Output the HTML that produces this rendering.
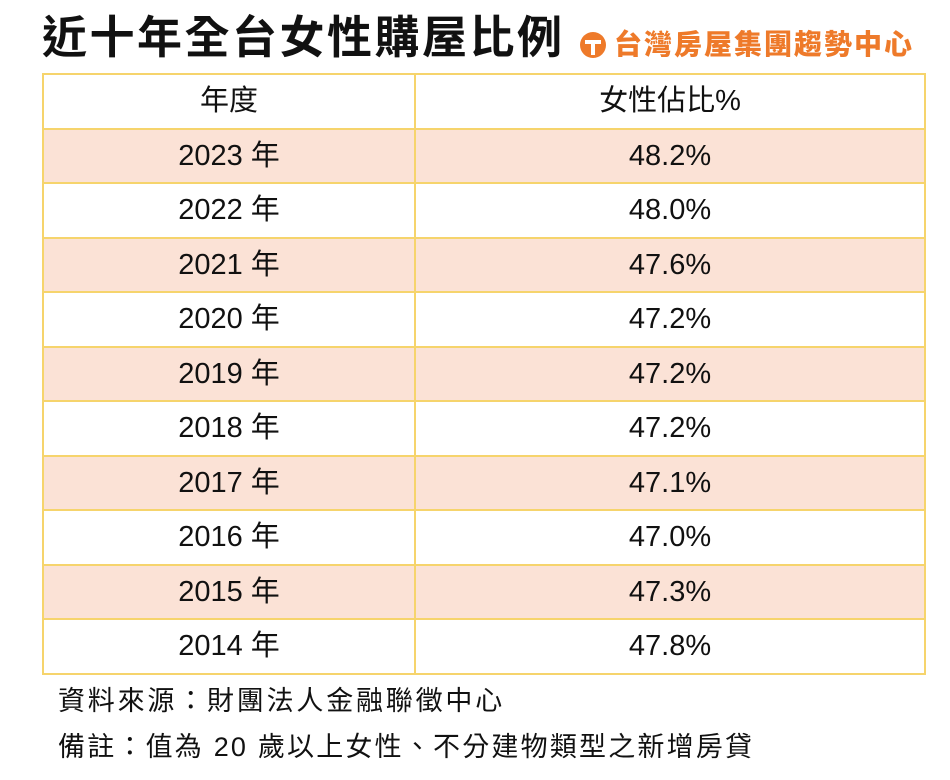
<!DOCTYPE html>
<html><head><meta charset="utf-8"><style>
body{margin:0;background:#fff;width:950px;height:780px;overflow:hidden;font-family:"Liberation Sans","Noto Sans CJK TC",sans-serif;color:#111;position:relative}
.title{position:absolute;left:42px;top:10px;font-size:45px;font-weight:bold;letter-spacing:2.5px;white-space:nowrap;line-height:56px}
.logo{position:absolute;left:614px;top:28px;font-size:28px;font-weight:900;color:#ee7a2a;white-space:nowrap;line-height:34px;letter-spacing:2px}
.ic{position:absolute;left:580px;top:32px;width:26px;height:26px;border-radius:50%;background:#ee7a2a}
table{position:absolute;left:42px;top:73px;border-collapse:collapse;width:884px}
td{border:2px solid #f6d46c;height:52.5px;padding:0;text-align:center;font-size:29px;line-height:52px}
tr.p td{background:#fbe2d6}
.n{position:absolute;left:58px;font-size:27px;white-space:nowrap;letter-spacing:2.8px}
</style></head><body>
<div class="title">近十年全台女性購屋比例</div>
<div class="ic"><svg width="26" height="26"><rect x="5" y="8" width="16" height="4" fill="#fff"/><rect x="11" y="10" width="4" height="13" fill="#fff"/></svg></div>
<div class="logo">台灣房屋集團趨勢中心</div>
<table>
<tr><td style="width:370px">年度</td><td>女性佔比%</td></tr>
<tr class="p"><td>2023 年</td><td>48.2%</td></tr>
<tr><td>2022 年</td><td>48.0%</td></tr>
<tr class="p"><td>2021 年</td><td>47.6%</td></tr>
<tr><td>2020 年</td><td>47.2%</td></tr>
<tr class="p"><td>2019 年</td><td>47.2%</td></tr>
<tr><td>2018 年</td><td>47.2%</td></tr>
<tr class="p"><td>2017 年</td><td>47.1%</td></tr>
<tr><td>2016 年</td><td>47.0%</td></tr>
<tr class="p"><td>2015 年</td><td>47.3%</td></tr>
<tr><td>2014 年</td><td>47.8%</td></tr>
</table>
<div class="n" style="top:679px">資料來源：財團法人金融聯徵中心</div>
<div class="n" style="top:725px;letter-spacing:2.2px">備註：值為 20 歲以上女性、不分建物類型之新增房貸</div>
</body></html>
